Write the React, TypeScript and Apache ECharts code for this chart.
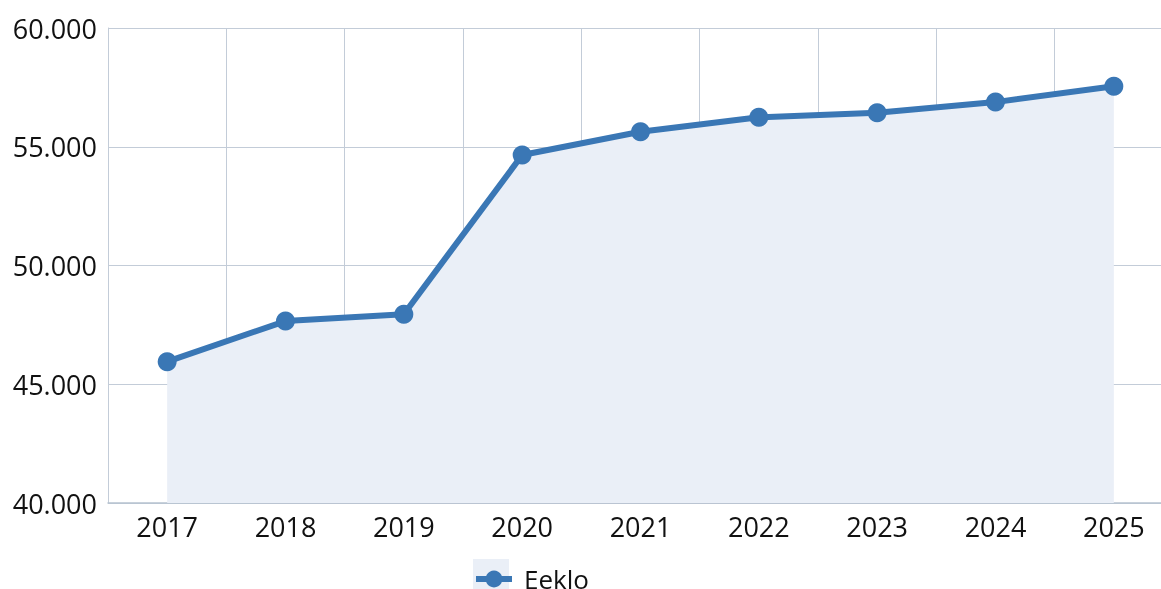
import React, { useEffect, useRef } from "react";
import * as echarts from "echarts";

const years = ["2017", "2018", "2019", "2020", "2021", "2022", "2023", "2024", "2025"];
const eekloValues = [45950, 47660, 47950, 54650, 55630, 56240, 56430, 56880, 57550];
const seriesName = "Eeklo";

export default function App() {
  const ref = useRef<HTMLDivElement>(null);
  useEffect(() => {
    if (!ref.current) return;
    const chart = echarts.init(ref.current, undefined, { renderer: "svg" });
    const font = "'Open Sans', 'Noto Sans', sans-serif";
    chart.setOption({
      animation: false,
      grid: { left: 108, top: 28, width: 1065, height: 475 },
      graphic: [
        {
          type: "rect",
          z: 0,
          silent: true,
          shape: { x: 473, y: 559, width: 36, height: 30 },
          style: { fill: "#eaeff7" },
        },
      ],
      legend: {
        data: [seriesName],
        left: 473,
        top: 566,
        padding: 0,
        itemWidth: 36,
        itemHeight: 21,
        itemGap: 10,
        lineStyle: { width: 6 },
        textStyle: {
          fontSize: 26,
          lineHeight: 20,
          color: "#111",
          fontFamily: font,
          padding: [0, 0, 6, 7],
        },
      },
      xAxis: {
        type: "category",
        data: years,
        boundaryGap: true,
        axisLine: { show: true, lineStyle: { color: "#b7c2d0", width: 1.5 } },
        axisTick: { show: false },
        axisLabel: { fontSize: 27, color: "#111", fontFamily: font, margin: 10 },
        splitLine: { show: true, lineStyle: { color: "#c3ccd8", width: 1 } },
      },
      yAxis: {
        type: "value",
        min: 40000,
        max: 60000,
        interval: 5000,
        axisLine: { show: true, lineStyle: { color: "#c3ccd8" } },
        axisTick: { show: false },
        axisLabel: {
          fontSize: 27,
          color: "#111",
          fontFamily: font,
          margin: 11,
          formatter: (v: number) => (v / 1000).toFixed(3),
        },
        splitLine: { show: true, lineStyle: { color: "#c3ccd8", width: 1 } },
      },
      series: [
        {
          name: seriesName,
          type: "line",
          data: eekloValues,
          symbol: "circle",
          symbolSize: 19,
          itemStyle: { color: "#3a77b5" },
          lineStyle: { color: "#3a77b5", width: 6 },
          areaStyle: { color: "#eaeff7", opacity: 1 },
        },
      ],
    });
    return () => chart.dispose();
  }, []);
  return (
    <div
      ref={ref}
      style={{ position: "fixed", left: 0, top: 0, width: 1200, height: 589 }}
    />
  );
}
